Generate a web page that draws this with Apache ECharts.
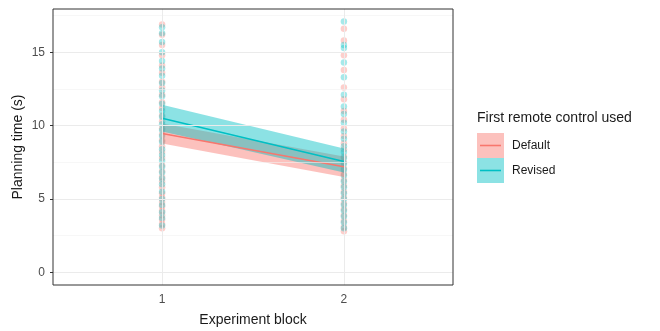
<!DOCTYPE html>
<html><head><meta charset="utf-8">
<script src="https://cdn.jsdelivr.net/npm/echarts@6/dist/echarts.min.js"></script>
<style>html,body{margin:0;padding:0;background:#fff}#c{width:660px;height:331px}</style>
</head><body><div id="c"></div>
<script>
// ---- data ----
var blocks = [1, 2];
var yTicks = [0, 5, 10, 15];
var yMinor = [2.5, 7.5, 12.5, 17.5];
var groups = ['Default', 'Revised'];
var colors = ['#F8766D', '#00BFC4'];
var defaultFit = [9.47, 7.2];
var defaultLo = [8.78, 6.5];
var defaultHi = [10.15, 7.9];
var revisedFit = [10.5, 7.56];
var revisedLo = [9.6, 6.8];
var revisedHi = [11.42, 8.45];
var defaultBlock1 = [3.0,3.3,3.6,3.9,4.2,4.5,4.8,5.1,5.4,5.8,6.2,6.5,6.9,7.3,7.8,8.2,8.6,9.0,9.4,9.8,10.3,10.7,11.2,11.6,12.1,12.6,13.0,13.6,14.1,14.8,15.5,16.2,16.9];
var revisedBlock1 = [3.2,3.7,4.1,4.6,5.0,5.5,6.0,6.4,6.8,7.2,7.6,8.0,8.4,8.9,9.3,9.7,10.1,10.6,11.0,11.5,12.0,12.4,12.9,13.4,13.9,14.4,15.0,15.7,16.3,16.7];
var defaultBlock2 = [2.8,3.1,3.5,3.9,4.3,4.7,5.1,5.5,5.9,6.3,6.7,7.1,7.5,7.9,8.4,8.8,9.3,9.8,10.4,11.0,11.8,12.6,13.8,14.8,15.8,16.6];
var revisedBlock2 = [3.0,3.4,3.8,4.2,4.6,5.0,5.4,5.8,6.2,6.6,7.0,7.4,7.8,8.2,8.6,9.1,9.6,10.2,10.8,11.3,12.1,13.3,14.3,15.3,15.5,17.1];

// ---- build ----
function pts(a, b) {
  var out = [];
  a.forEach(function (v) { out.push([blocks[0], v]); });
  b.forEach(function (v) { out.push([blocks[1], v]); });
  return out;
}
function ribbon(lo, hi, color) {
  var data = blocks.map(function (b, i) { return [b, lo[i], hi[i]]; });
  return {
    type: 'custom', silent: true, z: 3,
    data: data,
    encode: { x: 0, y: [1, 2] },
    renderItem: function (params, api) {
      if (params.dataIndex !== 0) return null;
      var p = [];
      for (var i = 0; i < data.length; i++) p.push(api.coord([data[i][0], data[i][2]]));
      for (var j = data.length - 1; j >= 0; j--) p.push(api.coord([data[j][0], data[j][1]]));
      return { type: 'polygon', shape: { points: p }, style: { fill: color, opacity: 0.45 } };
    }
  };
}
function fitLine(fit, color) {
  return {
    type: 'line', silent: true, z: 4, symbol: 'none',
    data: blocks.map(function (b, i) { return [b, fit[i]]; }),
    lineStyle: { color: color, width: 1.6 }
  };
}
var gridMark = [];
yTicks.forEach(function (v) { gridMark.push({ yAxis: v, lineStyle: { color: '#EBEBEB', width: 1, type: 'solid' } }); });
yMinor.forEach(function (v) { gridMark.push({ yAxis: v, lineStyle: { color: '#F2F2F2', width: 0.6, type: 'solid' } }); });
blocks.forEach(function (v) { gridMark.push({ xAxis: v, lineStyle: { color: '#EBEBEB', width: 1, type: 'solid' } }); });

var panelL = 53, panelR = 453, panelT = 9, panelB = 285;
var chart = echarts.init(document.getElementById('c'), null, { renderer: 'canvas' });
var font = 'Liberation Sans, Arial, sans-serif';
chart.setOption({
  animation: false,
  grid: { left: panelL, right: 660 - panelR, top: panelT, bottom: 331 - panelB, containLabel: false, outerBoundsMode: 'none', show: true, borderColor: '#333333', borderWidth: 1, backgroundColor: 'transparent', z: 10 },
  xAxis: {
    type: 'value', min: 0.4, max: 2.6,
    name: 'Experiment block', nameLocation: 'middle', nameGap: 28,
    nameTextStyle: { fontFamily: font, fontSize: 14, color: '#1a1a1a' },
    axisLine: { show: false },
    axisTick: { show: true, length: 3, customValues: blocks, lineStyle: { color: '#333333' } },
    axisLabel: { customValues: blocks, margin: 9, fontFamily: font, fontSize: 12, color: '#4D4D4D' },
    splitLine: { show: false }
  },
  yAxis: {
    type: 'value', min: -0.86, max: 17.95,
    name: 'Planning time (s)', nameLocation: 'middle', nameGap: 28, nameMoveOverlap: false,
    nameTextStyle: { fontFamily: font, fontSize: 14, color: '#1a1a1a' },
    axisLine: { show: false },
    axisTick: { show: true, length: 3, customValues: yTicks, lineStyle: { color: '#333333' } },
    axisLabel: { customValues: yTicks, margin: 8, fontFamily: font, fontSize: 12, color: '#4D4D4D' },
    splitLine: { show: false }
  },
  series: [
    { type: 'line', data: [], silent: true, z: 1, markLine: { silent: true, symbol: 'none', label: { show: false }, data: gridMark, animation: false } },
    { name: groups[0], type: 'scatter', z: 2, symbolSize: 6.5, data: pts(defaultBlock1, defaultBlock2), itemStyle: { color: colors[0], opacity: 0.35 } },
    { name: groups[1], type: 'scatter', z: 2, symbolSize: 6.5, data: pts(revisedBlock1, revisedBlock2), itemStyle: { color: colors[1], opacity: 0.35 } },
    ribbon(defaultLo, defaultHi, colors[0]),
    ribbon(revisedLo, revisedHi, colors[1]),
    fitLine(defaultFit, colors[0]),
    fitLine(revisedFit, colors[1])
  ],
  graphic: [
    { type: 'text', left: 477, top: 111, style: { text: 'First remote control used', font: '14px ' + font, fill: '#1a1a1a' } },
    { type: 'rect', left: 477, top: 133, shape: { width: 27, height: 25 }, style: { fill: colors[0], opacity: 0.45 } },
    { type: 'line', shape: { x1: 480, y1: 145.5, x2: 501, y2: 145.5 }, style: { stroke: colors[0], lineWidth: 1.6 } },
    { type: 'rect', left: 477, top: 158, shape: { width: 27, height: 25 }, style: { fill: colors[1], opacity: 0.45 } },
    { type: 'line', shape: { x1: 480, y1: 170.5, x2: 501, y2: 170.5 }, style: { stroke: colors[1], lineWidth: 1.6 } },
    { type: 'text', left: 512, top: 140, style: { text: groups[0], font: '12px ' + font, fill: '#1a1a1a' } },
    { type: 'text', left: 512, top: 165, style: { text: groups[1], font: '12px ' + font, fill: '#1a1a1a' } }
  ]
});
</script></body></html>
